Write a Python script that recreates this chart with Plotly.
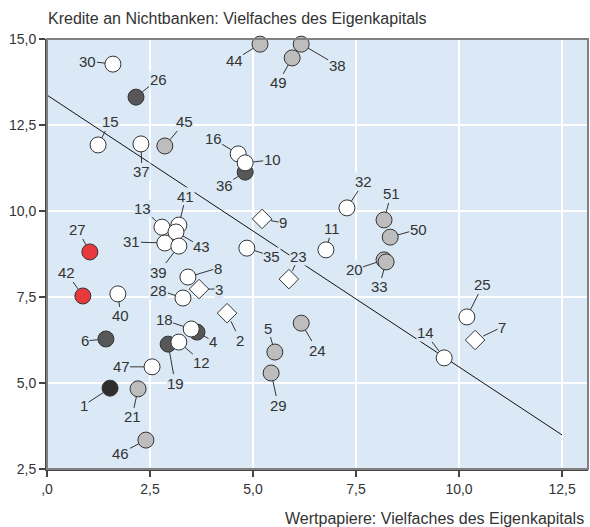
import plotly.graph_objects as go

# ---- data (drawing order chosen so overlaps match) ----
ids = [30, 26, 44, 38, 49, 15, 37, 45, 36, 16, 10, 32, 51, 50, 11, 20, 33,
       27, 42, 40, 13, 41, 31, 43, 39, 35, 8, 28, 4, 18, 19, 12, 6, 47, 1, 21,
       46, 5, 29, 24, 14, 25]
xs = [1.60, 2.16, 5.17, 6.17, 5.95, 1.24, 2.28, 2.86, 4.81, 4.64, 4.81, 7.28, 8.18, 8.33, 6.77, 8.18, 8.23,
      1.04, 0.87, 1.72, 2.79, 3.20, 2.86, 3.13, 3.20, 4.85, 3.42, 3.30, 3.64, 3.50, 2.94, 3.20, 1.43, 2.55, 1.53, 2.21,
      2.40, 5.53, 5.44, 6.17, 9.64, 10.19]
ys = [14.27, 13.31, 14.85, 14.85, 14.45, 11.92, 11.95, 11.89, 11.13, 11.66, 11.40, 10.09, 9.74, 9.24, 8.87, 8.58, 8.52,
      8.81, 7.53, 7.59, 9.53, 9.59, 9.07, 9.39, 8.98, 8.92, 8.08, 7.47, 6.48, 6.57, 6.13, 6.19, 6.28, 5.47, 4.85, 4.83,
      3.34, 5.90, 5.29, 6.74, 5.73, 6.92]
groups = ["w", "d", "g", "g", "g", "w", "w", "g", "d", "w", "w", "w", "g", "g", "w", "g", "g",
          "r", "r", "w", "w", "w", "w", "w", "w", "w", "w", "w", "d", "w", "d", "w", "d", "w", "k", "g",
          "g", "g", "g", "g", "w", "w"]

dia_ids = [9, 23, 3, 2, 7]
dia_x = [5.22, 5.87, 3.69, 4.37, 10.39]
dia_y = [9.77, 8.02, 7.73, 7.03, 6.25]

trend_x = [0.0, 12.5]
trend_y = [13.37, 3.49]

x_tickvals = [0, 2.5, 5.0, 7.5, 10.0, 12.5]
x_ticktext = [",0", "2,5", "5,0", "7,5", "10,0", "12,5"]
y_tickvals = [2.5, 5.0, 7.5, 10.0, 12.5, 15.0]
y_ticktext = ["2,5", "5,0", "7,5", "10,0", "12,5", "15,0"]

# ---- styling ----
BG = "#dbe9f6"
TXT = "#333333"
FONT = "Liberation Sans, Arial, sans-serif"
colors = {"w": "#ffffff", "g": "#bdbdbd", "d": "#575757", "k": "#2e2e2e", "r": "#e8393f"}

# label offsets in pixels (dx, dy) relative to marker
label_offsets = {
    30: (-25, -3), 26: (22, -18), 44: (-26, 16), 49: (-14, 25), 38: (36, 21),
    15: (12, -23), 37: (1, 28), 45: (20, -24), 16: (-25, -15), 10: (27, -3),
    36: (-21, 13), 32: (17, -26), 51: (7, -26), 50: (28, -8), 11: (6, -21),
    20: (-30, 10), 33: (-7, 25), 9: (21, 4), 35: (25, 8), 23: (10, -23),
    13: (-19, -19), 41: (7, -29), 43: (26, 15), 31: (-33, -1), 39: (-20, 26),
    27: (-12, -22), 42: (-16, -23), 40: (3, 22), 8: (30, -9), 3: (20, 0),
    28: (-24, -8), 2: (13, 27), 18: (-27, -9), 4: (16, 9), 6: (-21, 2),
    12: (23, 20), 19: (7, 39), 47: (-31, 0), 1: (-26, 17), 21: (-6, 28),
    46: (-25, 13), 5: (-7, -24), 29: (7, 32), 24: (16, 27), 14: (-19, -25),
    25: (16, -32), 7: (27, -13),
}

fig = go.Figure()

fig.add_trace(go.Scatter(
    x=trend_x, y=trend_y, mode="lines",
    line=dict(color="#111111", width=1), hoverinfo="skip", showlegend=False))

fig.add_trace(go.Scatter(
    x=xs, y=ys, mode="markers", text=[str(i) for i in ids],
    marker=dict(size=16, color=[colors[g] for g in groups],
                line=dict(color="#333333", width=1), symbol="circle"),
    showlegend=False, cliponaxis=False))

fig.add_trace(go.Scatter(
    x=dia_x, y=dia_y, mode="markers", text=[str(i) for i in dia_ids],
    marker=dict(size=15, color="#ffffff",
                line=dict(color="#333333", width=1), symbol="diamond"),
    showlegend=False, cliponaxis=False))

annotations = []
all_pts = list(zip(ids, xs, ys, ["c"] * len(ids))) + list(zip(dia_ids, dia_x, dia_y, ["d"] * len(dia_ids)))
for pid, px, py, kind in all_pts:
    dx, dy = label_offsets[pid]
    annotations.append(dict(
        x=px, y=py, xref="x", yref="y", text=str(pid),
        showarrow=True, ax=dx, ay=dy, arrowhead=0, arrowwidth=1,
        arrowcolor="#333333", standoff=8 if kind == "c" else 9,
        bgcolor=BG, borderpad=0,
        font=dict(family=FONT, size=15, color=TXT)))

annotations.append(dict(
    text="Kredite an Nichtbanken: Vielfaches des Eigenkapitals",
    xref="paper", yref="paper", x=-0.002, y=1.047, xanchor="left", yanchor="middle",
    showarrow=False, font=dict(family=FONT, size=16, color=TXT)))
annotations.append(dict(
    text="Wertpapiere: Vielfaches des Eigenkapitals",
    xref="paper", yref="paper", x=0.997, y=-0.114, xanchor="right", yanchor="middle",
    showarrow=False, font=dict(family=FONT, size=16, color=TXT)))

fig.update_layout(
    width=590, height=527,
    margin=dict(l=47, r=2, t=39, b=58),
    paper_bgcolor="#ffffff", plot_bgcolor=BG,
    font=dict(family=FONT, size=14, color=TXT),
    annotations=annotations,
    shapes=[dict(type="rect", xref="paper", yref="paper", x0=0, y0=0, x1=1, y1=1,
                 line=dict(color="#808080", width=2), fillcolor="rgba(0,0,0,0)", layer="above")],
    hovermode=False,
)

fig.update_xaxes(
    range=[0, 13.13], tickvals=x_tickvals, ticktext=x_ticktext, automargin=False,
    showgrid=True, gridcolor="#ffffff", gridwidth=1.5, zeroline=False,
    showline=True, linecolor="#444444", linewidth=2,
    ticks="outside", ticklen=6, tickwidth=1.5, tickcolor="#444444",
    tickfont=dict(family=FONT, size=14, color=TXT))
fig.update_yaxes(
    range=[2.5, 15.0], tickvals=y_tickvals, ticktext=y_ticktext, automargin=False,
    showgrid=True, gridcolor="#ffffff", gridwidth=1.5, zeroline=False,
    showline=True, linecolor="#444444", linewidth=2,
    ticks="outside", ticklen=6, tickwidth=1.5, tickcolor="#444444",
    tickfont=dict(family=FONT, size=14, color=TXT))

fig.write_html("out.html", config={"displayModeBar": False},
               post_script="document.body.style.margin='0';document.body.style.overflow='hidden';")
